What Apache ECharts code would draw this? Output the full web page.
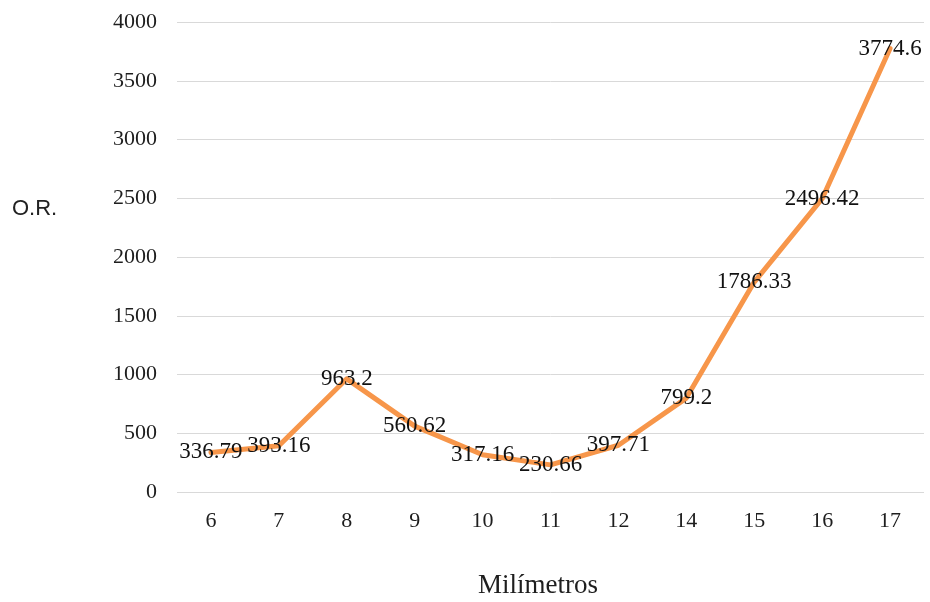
<!DOCTYPE html>
<html>
<head>
<meta charset="utf-8">
<script src="https://cdn.jsdelivr.net/npm/echarts@6/dist/echarts.min.js"></script>
<style>
  html, body { margin: 0; padding: 0; background: #fff; }
  #chart { width: 930px; height: 602px; }
</style>
</head>
<body>
<div id="chart"></div>
<script>
// Diameter classes (mm) and the O.R. value for each
const categories = ['6', '7', '8', '9', '10', '11', '12', '14', '15', '16', '17'];
const orValues = [336.79, 393.16, 963.2, 560.62, 317.16, 230.66, 397.71, 799.2, 1786.33, 2496.42, 3774.6];
const yTicks = { min: 0, max: 4000, interval: 500 };

const serif = '"Liberation Serif", "Times New Roman", serif';

const chart = echarts.init(document.getElementById('chart'), null, { renderer: 'canvas' });

chart.setOption({
  animation: false,
  backgroundColor: '#ffffff',
  grid: { left: 177, right: 6, top: 22, bottom: 110, containLabel: false },
  xAxis: {
    type: 'category',
    data: categories,
    boundaryGap: true,
    axisLine: { show: false },
    axisTick: { show: false },
    axisLabel: { margin: 18, fontFamily: serif, fontSize: 22, color: '#1e1e1e' }
  },
  yAxis: {
    type: 'value',
    min: yTicks.min,
    max: yTicks.max,
    interval: yTicks.interval,
    axisLine: { show: false },
    axisTick: { show: false },
    axisLabel: {
      margin: 20, fontFamily: serif, fontSize: 22, color: '#1e1e1e',
      formatter: v => String(v)
    },
    splitLine: { lineStyle: { color: '#d9d9d9', width: 1 } }
  },
  series: [{
    type: 'line',
    data: orValues,
    showSymbol: true,
    symbol: 'circle',
    symbolSize: 1,
    itemStyle: { color: 'rgba(0,0,0,0)' },
    lineStyle: { color: '#f7964a', width: 5, join: 'round', cap: 'round' },
    label: {
      show: true,
      position: 'inside',
      offset: [0, 2],
      fontFamily: serif,
      fontSize: 23,
      color: '#111',
      formatter: p => String(p.value)
    },
    labelLayout: { hideOverlap: false }
  }],
  graphic: [
    {
      type: 'text',
      left: 12,
      top: 198,
      style: { text: 'O.R.', font: '22px "Liberation Sans", Arial, sans-serif', fill: '#222' }
    },
    {
      type: 'text',
      x: 538,
      y: 586,
      style: {
        text: 'Milímetros',
        font: '27px "Liberation Serif", "Times New Roman", serif',
        fill: '#1e1e1e',
        align: 'center',
        verticalAlign: 'middle'
      }
    }
  ]
});
</script>
</body>
</html>
